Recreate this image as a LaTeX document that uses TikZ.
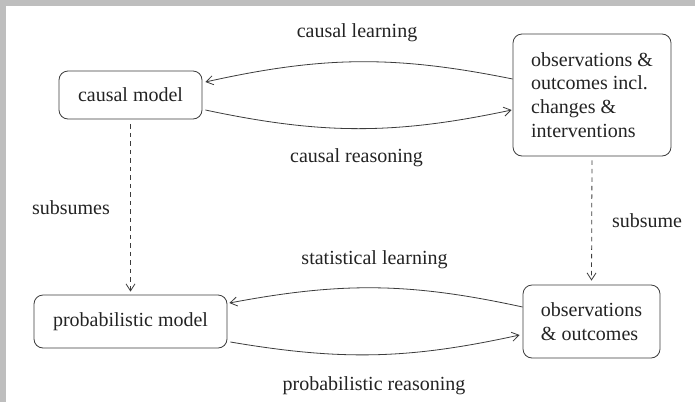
\documentclass[tikz,border=0pt]{standalone}
\usepackage{fontspec}
\setmainfont{Liberation Serif}
\newfontfamily\timesA{Liberation Serif}
\usetikzlibrary{arrows.meta}
\definecolor{framegray}{RGB}{190,190,190}
\definecolor{ink}{RGB}{35,35,35}
\definecolor{linegray}{RGB}{60,60,60}
\begin{document}
\begin{tikzpicture}[x=1pt,y=-1pt,
  txt/.style={font=\timesA\fontsize{20}{23.7}\selectfont, text=ink},
  box/.style={txt, draw=linegray, line width=0.8pt, rounded corners=9pt, inner sep=0pt, align=left},
  lbl/.style={txt, inner sep=0pt, anchor=base},
  conn/.style={draw=linegray, line width=0.8pt, -{Straight Barb[length=7pt,width=9pt]}},
  dashconn/.style={conn, dash pattern=on 4.5pt off 4pt}]
  % frame
  \fill[framegray] (0,0) rectangle (695,402);
  \fill[white] (6,6) rectangle (695,402);
  \useasboundingbox (0,0) rectangle (695,402);
  % boxes
  \node[box, minimum width=143pt, minimum height=48pt] (cm) at (130.5,95) {causal model};
  \node[box, minimum width=158pt, minimum height=122pt] (obsA) at (592,95) {observations \&\\outcomes incl.\\changes \&\\interventions};
  \node[box, minimum width=193pt, minimum height=53pt] (pm) at (130.5,321.5) {probabilistic model};
  \node[box, minimum width=137pt, minimum height=73pt] (obsB) at (591.5,321.5) {observations\\\& outcomes};
  % labels
  \node[lbl] (l1) at (357,37) {causal learning};
  \node[lbl] (l2) at (356.5,162) {causal reasoning};
  \node[lbl] (l3) at (374.5,264) {statistical learning};
  \node[lbl] (l4) at (374,390) {probabilistic reasoning};
  \node[lbl] (l5) at (71,214) {subsumes};
  \node[lbl] (l6) at (647,227) {subsume};
  % connectors
  \draw[conn] ([yshift=16pt]obsA.west) to[bend right=12] ([xshift=3pt,yshift=13pt]cm.east);
  \draw[conn] ([xshift=3pt,yshift=-15pt]cm.east) to[bend right=12] ([xshift=-1pt,yshift=-15pt]obsA.west);
  \draw[conn] ([yshift=14.5pt]obsB.west) to[bend right=11.5] ([xshift=2pt,yshift=18.5pt]pm.east);
  \draw[conn] ([xshift=3pt,yshift=-20.5pt]pm.east) to[bend right=11] ([xshift=-3pt,yshift=-13.5pt]obsB.west);
  \draw[dashconn, shorten <=5pt, shorten >=3pt] (cm.south) -- (pm.north);
  \draw[dashconn, shorten <=4pt, shorten >=4pt] (obsA.south) -- (obsB.north);
\end{tikzpicture}
\end{document}
